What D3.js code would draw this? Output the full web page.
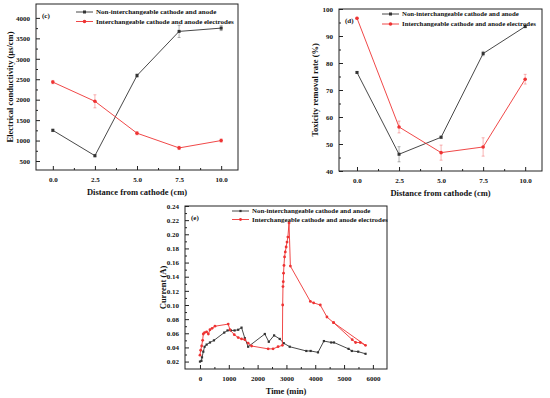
<!DOCTYPE html>
<html>
<head>
<meta charset="utf-8">
<script src="https://cdn.jsdelivr.net/npm/d3@7"></script>
<style>
  body { margin: 0; background: #fff; }
  svg text { font-family: "Liberation Serif", "Times New Roman", serif; font-weight: bold; }
</style>
</head>
<body>
<div id="chart-area"></div>
<script>

// SVG Size
var width = 550,
	height = 398;

var seriesNames = ["Non-interchangeable cathode and anode", "Interchangeable cathode and anode electrodes"];
var seriesColors = ["#333333", "#ee3333"];

// panel (c) and (d) share the same x values
var distance = [0, 2.5, 5.0, 7.5, 10.0];
var distanceTicks = [0, 2.5, 5, 7.5, 10];

var condBlack = [1250, 630, 2590, 3670, 3750];
var condRed = [2430, 1960, 1180, 820, 1000];
var condBlackErr = [30, 30, 40, 150, 60];
var condRedErr = [40, 160, 40, 40, 40];
var condTicks = [500, 1000, 1500, 2000, 2500, 3000, 3500, 4000];

var toxBlack = [76.5, 46.2, 52.5, 83.5, 93.5];
var toxRed = [96.6, 56.3, 46.8, 48.9, 74.0];
var toxBlackErr = [0.3, 2.8, 0.4, 0.8, 0.4];
var toxRedErr = [0.3, 2.2, 2.8, 3.4, 1.8];
var toxTicks = [40, 50, 60, 70, 80, 90, 100];

// panel (e): current over time
var timeBlack = [0, 50, 70, 115, 160, 230, 346, 485, 842, 957, 1073, 1200, 1326, 1442, 1557, 1672,
	2250, 2388, 2572, 2768, 2907, 3114, 3690, 3840, 4095, 4300, 4556, 4650, 5156, 5270, 5490, 5745];
var curBlack = [0.020, 0.021, 0.026, 0.034, 0.041, 0.044, 0.047, 0.050, 0.061, 0.064, 0.064, 0.064, 0.065, 0.068, 0.053, 0.041,
	0.059, 0.048, 0.057, 0.052, 0.046, 0.041, 0.035, 0.035, 0.033, 0.049, 0.047, 0.047, 0.038, 0.035, 0.034, 0.031];

var timeRed = [0, 25, 58, 92, 115, 160, 230, 290, 346, 420, 520, 980, 1040, 1190, 1326, 1442, 1557, 1672, 1790,
	2365, 2537, 2710, 2860, 2870, 2880, 2890, 2900, 2915, 2935, 2960, 2990, 3020, 3050, 3090,
	3137, 3830, 3945, 4175, 4406, 4637, 5283, 5400, 5560, 5745, 4637];
var curRed = [0.029, 0.036, 0.042, 0.050, 0.059, 0.061, 0.062, 0.059, 0.065, 0.067, 0.070, 0.073, 0.065, 0.058, 0.054, 0.052, 0.051, 0.046, 0.042,
	0.038, 0.038, 0.041, 0.043, 0.100, 0.126, 0.133, 0.145, 0.156, 0.168, 0.175, 0.182, 0.189, 0.196, 0.216,
	0.155, 0.105, 0.103, 0.100, 0.083, 0.075, 0.051, 0.047, 0.047, 0.043, 0.075];
var timeTicks = [0, 1000, 2000, 3000, 4000, 5000, 6000];
var curTicks = [0.02, 0.04, 0.06, 0.08, 0.10, 0.12, 0.14, 0.16, 0.18, 0.20, 0.22, 0.24];

var svg = d3.select("#chart-area").append("svg")
	.attr("width", width)
	.attr("height", height);

var makePanel = function(p) {
	var x = d3.scaleLinear().domain(p.xDomain).range([p.left, p.right]);
	var y = d3.scaleLinear().domain(p.yDomain).range([p.bottom, p.top]);
	var g = svg.append("g");

	// frame
	g.append("rect")
		.attr("x", p.left).attr("y", p.top)
		.attr("width", p.right - p.left).attr("height", p.bottom - p.top)
		.attr("fill", "none").attr("stroke", "#222").attr("stroke-width", 1);

	// inward ticks, major + minor
	var xAxis = d3.axisBottom(x).tickValues(p.xTicks).tickSize(-4).tickPadding(7).tickFormat(p.xFormat);
	var xMinor = d3.axisBottom(x).tickValues(p.xMinor).tickSize(-2).tickFormat("");
	var yAxis = d3.axisLeft(y).tickValues(p.yTicks).tickSize(-4).tickPadding(6).tickFormat(p.yFormat);
	var yMinor = d3.axisLeft(y).tickValues(p.yMinor).tickSize(-2).tickFormat("");

	[[xAxis, "x"], [xMinor, "x"], [yAxis, "y"], [yMinor, "y"]].forEach(function(a) {
		var ag = g.append("g")
			.attr("transform", a[1] == "x" ? "translate(0," + p.bottom + ")" : "translate(" + p.left + ",0)")
			.call(a[0]);
		ag.select(".domain").remove();
		ag.selectAll("line").attr("stroke", "#222");
		ag.selectAll("text").attr("font-size", 7).attr("fill", "#111")
			.attr("font-family", "Liberation Serif");
	});

	// axis titles
	g.append("text")
		.attr("x", (p.left + p.right) / 2).attr("y", p.bottom + 25)
		.attr("text-anchor", "middle").attr("font-size", 8.5).attr("fill", "#111")
		.text(p.xTitle);
	g.append("text")
		.attr("transform", "translate(" + p.yTitleX + "," + (p.top + p.bottom) / 2 + ") rotate(-90)")
		.attr("text-anchor", "middle").attr("font-size", 8.5).attr("fill", "#111")
		.text(p.yTitle);

	// panel letter
	g.append("text")
		.attr("x", p.left + 6).attr("y", p.top + 14)
		.attr("font-size", 7).attr("fill", "#111")
		.text(p.label);

	var line = d3.line().x(d => x(d[0])).y(d => y(d[1]));

	p.series.forEach(function(s, i) {
		var pts = s.xs.map((v, j) => [v, s.ys[j], s.err ? s.err[j] : 0]);

		// error bars
		if (s.err) {
			var eb = g.append("g").attr("stroke", seriesColors[i]).attr("stroke-opacity", 0.45).attr("stroke-width", 0.8);
			pts.forEach(function(d) {
				eb.append("line").attr("x1", x(d[0])).attr("x2", x(d[0]))
					.attr("y1", y(d[1] - d[2])).attr("y2", y(d[1] + d[2]));
				[d[1] - d[2], d[1] + d[2]].forEach(function(v) {
					eb.append("line").attr("x1", x(d[0]) - 1.5).attr("x2", x(d[0]) + 1.5)
						.attr("y1", y(v)).attr("y2", y(v));
				});
			});
		}

		g.append("path")
			.datum(pts)
			.attr("d", line)
			.attr("fill", "none")
			.attr("stroke", seriesColors[i])
			.attr("stroke-width", 0.9);

		drawMarkers(g, pts, x, y, i, p.markerSize);
	});

	// legend
	seriesNames.forEach(function(name, i) {
		var ly = p.legendY + i * p.legendGap;
		g.append("line")
			.attr("x1", p.legendX).attr("x2", p.legendX + 17)
			.attr("y1", ly).attr("y2", ly)
			.attr("stroke", seriesColors[i]).attr("stroke-width", 0.9);
		drawMarkers(g, [[0, 0]], d => p.legendX + 8.5, d => ly, i, p.markerSize);
		g.append("text")
			.attr("x", p.legendX + 20).attr("y", ly + 2.3)
			.attr("font-size", p.legendFont).attr("fill", "#111")
			.text(name);
	});
}

var drawMarkers = function(g, pts, x, y, i, size) {
	if (i == 0) {
		g.selectAll(null).data(pts).enter().append("rect")
			.attr("x", d => x(d[0]) - size / 2)
			.attr("y", d => y(d[1]) - size / 2)
			.attr("width", size).attr("height", size)
			.attr("fill", seriesColors[0]);
	} else {
		g.selectAll(null).data(pts).enter().append("circle")
			.attr("cx", d => x(d[0]))
			.attr("cy", d => y(d[1]))
			.attr("r", size / 2 + 0.3)
			.attr("fill", seriesColors[1]);
	}
}

makePanel({
	left: 36, right: 238, top: 4, bottom: 170,
	xDomain: [-1, 11], yDomain: [280, 4340],
	xTicks: distanceTicks, xMinor: [1.25, 3.75, 6.25, 8.75],
	yTicks: condTicks, yMinor: [750, 1250, 1750, 2250, 2750, 3250, 3750],
	xFormat: d3.format(".1f"), yFormat: d3.format("d"),
	xTitle: "Distance from cathode (cm)", yTitle: "Electrical conductivity (\u03bcs/cm)", yTitleX: 13,
	label: "(c)", markerSize: 3,
	legendX: 76, legendY: 12, legendGap: 9.5, legendFont: 7,
	series: [
		{xs: distance, ys: condBlack, err: condBlackErr},
		{xs: distance, ys: condRed, err: condRedErr}
	]
});

makePanel({
	left: 339, right: 542, top: 9, bottom: 171,
	xDomain: [-1.07, 11], yDomain: [40, 100],
	xTicks: distanceTicks, xMinor: [1.25, 3.75, 6.25, 8.75],
	yTicks: toxTicks, yMinor: [45, 55, 65, 75, 85, 95],
	xFormat: d3.format(".1f"), yFormat: d3.format("d"),
	xTitle: "Distance from cathode (cm)", yTitle: "Toxicity removal rate (%)", yTitleX: 318,
	label: "(d)", markerSize: 3,
	legendX: 382, legendY: 14, legendGap: 10, legendFont: 6.8,
	series: [
		{xs: distance, ys: toxBlack, err: toxBlackErr},
		{xs: distance, ys: toxRed, err: toxRedErr}
	]
});

makePanel({
	left: 185, right: 387, top: 206, bottom: 369,
	xDomain: [-520, 6490], yDomain: [0.0095, 0.24],
	xTicks: timeTicks, xMinor: [500, 1500, 2500, 3500, 4500, 5500],
	yTicks: curTicks, yMinor: [0.03, 0.05, 0.07, 0.09, 0.11, 0.13, 0.15, 0.17, 0.19, 0.21, 0.23],
	xFormat: d3.format("d"), yFormat: d3.format(".2f"),
	xTitle: "Time (min)", yTitle: "Current (A)", yTitleX: 166,
	label: "(e)", markerSize: 2.2,
	legendX: 232, legendY: 211, legendGap: 8.5, legendFont: 6.9,
	series: [
		{xs: timeBlack, ys: curBlack},
		{xs: timeRed, ys: curRed}
	]
});

</script>
</body>
</html>
